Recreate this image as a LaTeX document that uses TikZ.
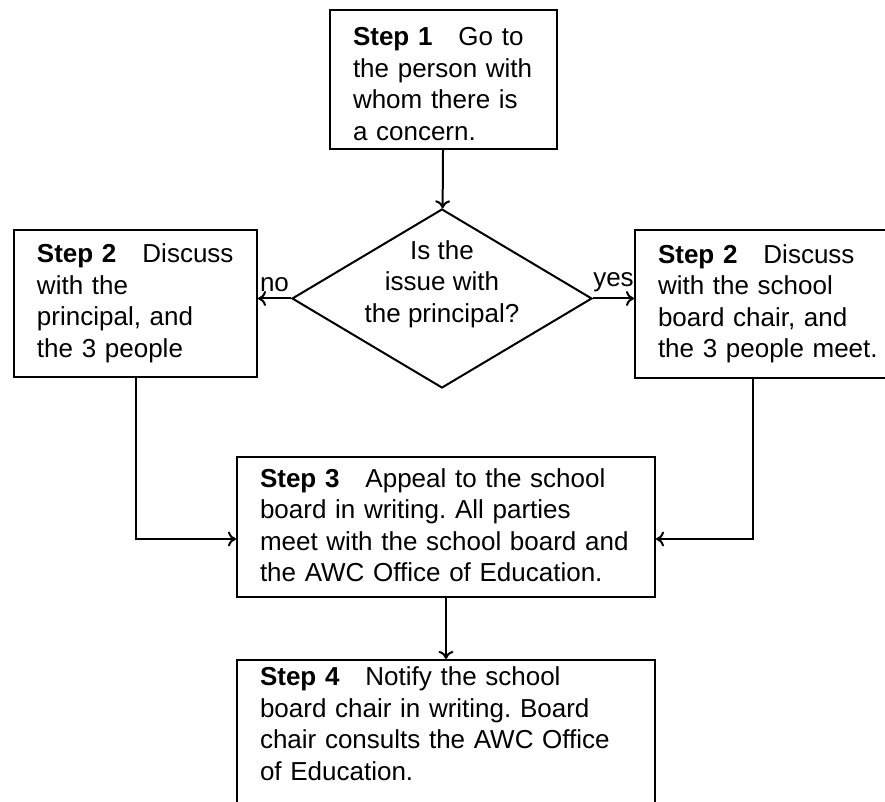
\documentclass[tikz,border=0pt]{standalone}
\usepackage{fontspec}
\setmainfont{Liberation Sans}
\usetikzlibrary{arrows.meta, shapes.geometric, calc}

\tikzset{
  stepbox/.style={draw, line width=1pt, anchor=north west, align=left, inner xsep=11.5pt, inner ysep=4pt},
  decision/.style={draw, diamond, line width=1pt, inner sep=0pt, minimum width=150pt, minimum height=89.5pt},
  conn/.style={line width=1pt, -{To[length=4pt, width=7.5pt]}},
}

\begin{document}
\frenchspacing
\begin{tikzpicture}[x=0.5pt, y=-0.5pt, font=\fontsize{13}{15.75}\selectfont]
        \useasboundingbox (0,0) rectangle (885,802);
        \clip (0,0) rectangle (885,802);

        \node[stepbox, text width=90.5pt, minimum height=69pt] (s1) at (329,9) {\rule{0pt}{14pt}\textbf{Step 1}\quad Go to\\the person with\\whom there is\\a concern.};
        \node[decision] (q) at (442,298.5) {};
        \node[align=center] (qtext) at (442,284) {Is the\\issue with\\the principal?};
        \node[stepbox, text width=98.5pt, minimum height=73.5pt] (left) at (13,229) {\textbf{Step 2}\quad Discuss\\with the\\principal, and\\the 3 people};
        \node[stepbox, text width=112pt, minimum height=74pt] (right) at (634,229) {\textbf{Step 2}\quad Discuss\\with the school\\board chair, and\\the 3 people meet.};
        \node[stepbox, text width=186pt, minimum height=70pt] (s3) at (236,456) {\textbf{Step 3}\quad Appeal to the school\\board in writing. All parties\\meet with the school board and\\the AWC Office of Education.\rule[-2pt]{0pt}{0pt}};
        \node[stepbox, text width=186pt, inner ysep=3.5pt] (s4) at (236,659) {\textbf{Step 4}\quad Notify the school\\board chair in writing. Board\\chair consults the AWC Office\\of Education.\rule[-40pt]{0pt}{0pt}};

        \draw[conn] (s1) -- (q);
        \draw[conn] (q.west) -- node[above, inner sep=3pt] {no} (q.west -| left.east);
        \draw[conn] (q.east) -- node[above, inner sep=3pt] {yes} (q.east -| right.west);
        \draw[conn] (left.south) |- ($(s3.west)+(0,12)$);
        \draw[conn] ([xshift=59.5pt]right.south west) |- ($(s3.east)+(0,12)$);
        \draw[conn] (s3) -- (s4);
    \end{tikzpicture}
\end{document}
